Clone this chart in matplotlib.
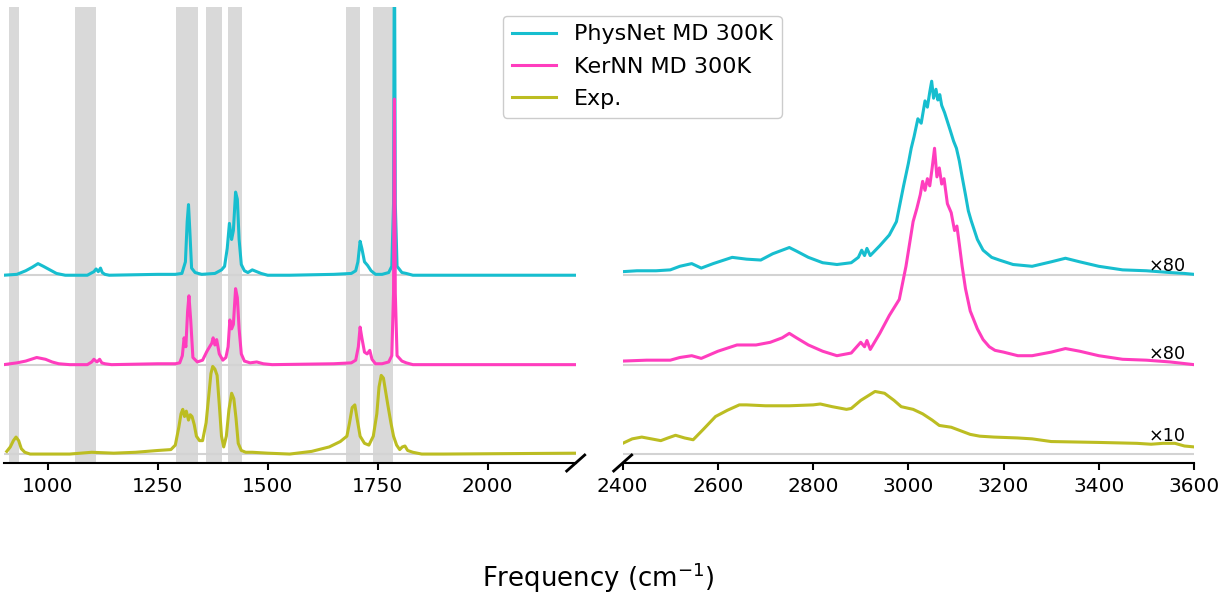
import numpy as np
import matplotlib.pyplot as plt

# Spectra: intensity above each trace's own baseline
# (baselines are stacked at 0 / 1 / 2).

# ---- low frequency window (900-2200 cm-1) ----
physnet_lo_x = [900, 930, 950, 965, 978, 990, 1005, 1020, 1040, 1090, 1105, 1110, 1115, 1120, 1124,
                1130, 1140, 1250, 1290, 1305, 1313, 1317, 1320, 1323, 1327, 1335, 1350, 1380, 1395,
                1402, 1408, 1413, 1418, 1422, 1427, 1431, 1435, 1440, 1447, 1455, 1465, 1475, 1485,
                1500, 1550, 1650, 1690, 1700, 1705, 1710, 1714, 1720, 1727, 1735, 1745, 1760, 1775,
                1782, 1786, 1788, 1790, 1794, 1805, 1815, 1830, 2200]
physnet_lo_y = [0.0, 0.01, 0.05, 0.09, 0.13, 0.1, 0.06, 0.02, 0.0, 0.0, 0.04, 0.07, 0.04, 0.08, 0.03,
                0.01, 0.0, 0.01, 0.01, 0.02, 0.15, 0.6, 0.79, 0.5, 0.08, 0.03, 0.01, 0.02, 0.06,
                0.1, 0.3, 0.58, 0.4, 0.5, 0.93, 0.85, 0.4, 0.12, 0.05, 0.03, 0.06, 0.04, 0.02,
                0.0, 0.0, 0.01, 0.02, 0.05, 0.15, 0.38, 0.3, 0.15, 0.11, 0.05, 0.01, 0.01, 0.03,
                0.1, 0.8, 4.0, 0.8, 0.1, 0.03, 0.02, 0.0, 0.0]

kernn_lo_x = [900, 930, 950, 975, 995, 1010, 1025, 1050, 1090, 1100, 1105, 1112, 1118, 1123, 1130,
              1145, 1250, 1290, 1300, 1306, 1310, 1314, 1318, 1321, 1325, 1330, 1340, 1352, 1362,
              1368, 1373, 1376, 1380, 1384, 1390, 1398, 1405, 1410, 1414, 1418, 1422, 1427, 1431,
              1435, 1440, 1447, 1460, 1475, 1490, 1510, 1650, 1690, 1700, 1706, 1710, 1714, 1720,
              1726, 1732, 1737, 1745, 1760, 1775, 1782, 1786, 1788, 1790, 1794, 1805, 1815, 1830, 2200]
kernn_lo_y = [0.0, 0.02, 0.04, 0.08, 0.06, 0.03, 0.01, 0.0, 0.0, 0.03, 0.06, 0.03, 0.06, 0.02, 0.01,
              0.0, 0.01, 0.01, 0.02, 0.1, 0.3, 0.2, 0.6, 0.77, 0.5, 0.08, 0.03, 0.05, 0.15,
              0.2, 0.24, 0.3, 0.22, 0.28, 0.12, 0.05, 0.08, 0.2, 0.5, 0.4, 0.45, 0.85, 0.75,
              0.4, 0.12, 0.04, 0.02, 0.03, 0.01, 0.0, 0.01, 0.02, 0.05, 0.2, 0.42, 0.3, 0.14,
              0.12, 0.16, 0.06, 0.01, 0.01, 0.03, 0.1, 0.8, 2.97, 0.8, 0.1, 0.04, 0.02, 0.0, 0.0]

exp_lo_x = [907, 915, 922, 928, 934, 940, 948, 960, 980, 1050, 1100, 1150, 1200, 1250, 1280, 1290,
            1298, 1303, 1307, 1311, 1315, 1320, 1324, 1328, 1333, 1338, 1345, 1352, 1360, 1366,
            1371, 1375, 1380, 1385, 1390, 1395, 1400, 1406, 1412, 1418, 1423, 1428, 1433, 1440,
            1450, 1465, 1500, 1550, 1600, 1640, 1665, 1680, 1686, 1692, 1698, 1703, 1710, 1720,
            1730, 1740, 1748, 1753, 1758, 1763, 1768, 1773, 1780, 1786, 1793, 1800, 1806, 1812,
            1818, 1830, 1850, 1900, 2200]
exp_lo_y = [0.03, 0.08, 0.15, 0.19, 0.15, 0.06, 0.02, 0.0, 0.0, 0.0, 0.02, 0.01, 0.02, 0.04, 0.05, 0.1,
            0.3, 0.45, 0.5, 0.42, 0.48, 0.38, 0.44, 0.42, 0.33, 0.2, 0.15, 0.15, 0.35, 0.65,
            0.9, 0.98, 0.95, 0.88, 0.55, 0.2, 0.08, 0.2, 0.5, 0.68, 0.62, 0.4, 0.12, 0.04,
            0.02, 0.02, 0.01, 0.0, 0.03, 0.08, 0.14, 0.2, 0.35, 0.52, 0.55, 0.4, 0.2, 0.12,
            0.1, 0.2, 0.45, 0.75, 0.88, 0.85, 0.7, 0.55, 0.35, 0.2, 0.1, 0.05, 0.08, 0.09,
            0.04, 0.02, 0.0, 0.0, 0.01]

# ---- high frequency window (2400-3600 cm-1), already scaled x80 / x10 ----
physnet_hi_x = [2400, 2430, 2470, 2500, 2520, 2545, 2565, 2590, 2630, 2660, 2690, 2715, 2735, 2750,
                2765, 2790, 2820, 2850, 2880, 2895, 2902, 2908, 2913, 2920, 2940, 2960, 2975, 2990,
                3000, 3006, 3012, 3020, 3027, 3035, 3040, 3045, 3049, 3053, 3058, 3062, 3066, 3070,
                3076, 3082, 3088, 3095, 3101, 3107, 3113, 3120, 3126, 3132, 3145, 3157, 3175, 3191,
                3220, 3260, 3300, 3330, 3360, 3400, 3450, 3500, 3550, 3580, 3600]
physnet_hi_y = [0.04, 0.05, 0.05, 0.06, 0.1, 0.13, 0.08, 0.13, 0.2, 0.18, 0.17, 0.24, 0.28, 0.31,
                0.27, 0.2, 0.14, 0.12, 0.14, 0.2, 0.28, 0.22, 0.3, 0.22, 0.33, 0.45, 0.6, 1.0,
                1.25, 1.42, 1.55, 1.75, 1.7, 1.95, 1.88, 2.05, 2.17, 1.98, 2.08, 1.96, 2.02, 1.9,
                1.82, 1.72, 1.62, 1.5, 1.42, 1.28, 1.1, 0.9, 0.72, 0.61, 0.4, 0.28, 0.2, 0.17,
                0.12, 0.1, 0.15, 0.19, 0.15, 0.1, 0.06, 0.05, 0.03, 0.02, 0.01]

kernn_hi_x = [2400, 2450, 2500, 2520, 2545, 2565, 2600, 2640, 2680, 2710, 2735, 2750, 2765, 2790,
              2820, 2850, 2880, 2900, 2908, 2913, 2920, 2940, 2960, 2981, 2995, 3010, 3018, 3025,
              3030, 3035, 3040, 3045, 3050, 3055, 3060, 3065, 3070, 3075, 3082, 3090, 3097, 3102,
              3107, 3113, 3120, 3130, 3145, 3157, 3170, 3182, 3200, 3230, 3260, 3300, 3330, 3360,
              3400, 3450, 3500, 3550, 3600]
kernn_hi_y = [0.04, 0.05, 0.05, 0.08, 0.1, 0.07, 0.15, 0.22, 0.22, 0.25, 0.3, 0.35, 0.3, 0.22,
              0.15, 0.1, 0.13, 0.25, 0.2, 0.27, 0.17, 0.35, 0.55, 0.73, 1.1, 1.6, 1.75, 1.9,
              2.05, 1.95, 2.08, 2.0, 2.2, 2.42, 2.1, 2.2, 2.02, 2.08, 1.8, 1.7, 1.5, 1.55,
              1.35, 1.1, 0.85, 0.6, 0.4, 0.28, 0.2, 0.16, 0.14, 0.1, 0.1, 0.14, 0.18, 0.15,
              0.1, 0.06, 0.05, 0.03, 0.0]

exp_hi_x = [2400, 2420, 2440, 2460, 2480, 2495, 2511, 2530, 2548, 2570, 2595, 2620, 2645, 2660,
            2700, 2750, 2800, 2815, 2840, 2870, 2880, 2900, 2930, 2950, 2970, 2985, 3010, 3030,
            3050, 3065, 3090, 3110, 3130, 3150, 3180, 3230, 3260, 3300, 3400, 3480, 3510, 3535,
            3560, 3580, 3600]
exp_hi_y = [0.12, 0.17, 0.19, 0.17, 0.15, 0.18, 0.21, 0.18, 0.16, 0.28, 0.42, 0.49, 0.55, 0.55,
            0.54, 0.54, 0.55, 0.56, 0.53, 0.5, 0.51, 0.6, 0.7, 0.68, 0.6, 0.53, 0.5, 0.45,
            0.38, 0.32, 0.3, 0.26, 0.22, 0.2, 0.19, 0.18, 0.17, 0.14, 0.13, 0.12, 0.11, 0.12,
            0.12, 0.09, 0.08]

labels = ['PhysNet MD 300K', 'KerNN MD 300K', 'Exp.']
colors = ['#17becf', '#ff3dbe', '#bcbd22']
offsets = [2, 1, 0]
scale_labels = ['×80', '×80', '×10']
scale_label_y = [2.05, 1.06, 0.145]

# shaded regions (cm-1) in the low frequency window
bands = [(912, 935), (1061, 1110), (1291, 1341), (1359, 1395), (1410, 1441), (1677, 1710), (1739, 1784)]

W, H = 1225, 594
fig = plt.figure(figsize=(W / 100, H / 100), dpi=100)
ax1 = fig.add_axes([3.7 / W, 1 - 463 / H, 572 / W, 456 / H])
ax2 = fig.add_axes([622.7 / W, 1 - 463 / H, 571.3 / W, 456 / H])

for a, b in bands:
    ax1.axvspan(a, b, color='#d9d9d9', lw=0, zorder=0)

lo = [(physnet_lo_x, physnet_lo_y), (kernn_lo_x, kernn_lo_y), (exp_lo_x, exp_lo_y)]
hi = [(physnet_hi_x, physnet_hi_y), (kernn_hi_x, kernn_hi_y), (exp_hi_x, exp_hi_y)]

lines = []
for (x, y), off, c, lab in zip(lo, offsets, colors, labels):
    ax1.axhline(off, color='#d3d3d3', lw=1.5, zorder=1)
    l, = ax1.plot(x, np.array(y) + off, color=c, lw=2.2, label=lab, zorder=2)
    lines.append(l)

for (x, y), off, c, s, sy in zip(hi, offsets, colors, scale_labels, scale_label_y):
    ax2.axhline(off, color='#d3d3d3', lw=1.5, zorder=1)
    ax2.plot(x, np.array(y) + off, color=c, lw=2.2, zorder=2)
    ax2.text(3505, sy, s, fontsize=12.7, ha='left', va='baseline')

for ax, xl in ((ax1, (900, 2200)), (ax2, (2400, 3600))):
    ax.set_xlim(*xl)
    ax.set_ylim(-0.1, 5.0)
    ax.set_yticks([])
    for sp in ('top', 'left', 'right'):
        ax.spines[sp].set_visible(False)
    ax.spines['bottom'].set_linewidth(1.5)
    ax.tick_params(axis='x', labelsize=14.5, length=5, width=1.5, pad=5)

ax1.set_xticks([1000, 1250, 1500, 1750, 2000])
ax2.set_xticks(np.arange(2400, 3601, 200))

# axis break marks
dx, dy = 9 / 572, 8 / 456
ax1.plot([1 - dx, 1 + dx], [-dy, dy], transform=ax1.transAxes, color='k', lw=2, clip_on=False)
ax2.plot([-dx, dx], [-dy, dy], transform=ax2.transAxes, color='k', lw=2, clip_on=False)

fig.legend(lines, labels, loc='upper left', bbox_to_anchor=(503 / W, 1 - 15.5 / H),
           borderaxespad=0, fontsize=16, labelspacing=0.55, handlelength=2.0,
           framealpha=1, edgecolor='#cccccc')

fig.text(598.5 / W, 7 / H, 'Frequency (cm$^{-1}$)', ha='center', va='baseline', fontsize=18.7)

fig.savefig('out.png', dpi=100)
